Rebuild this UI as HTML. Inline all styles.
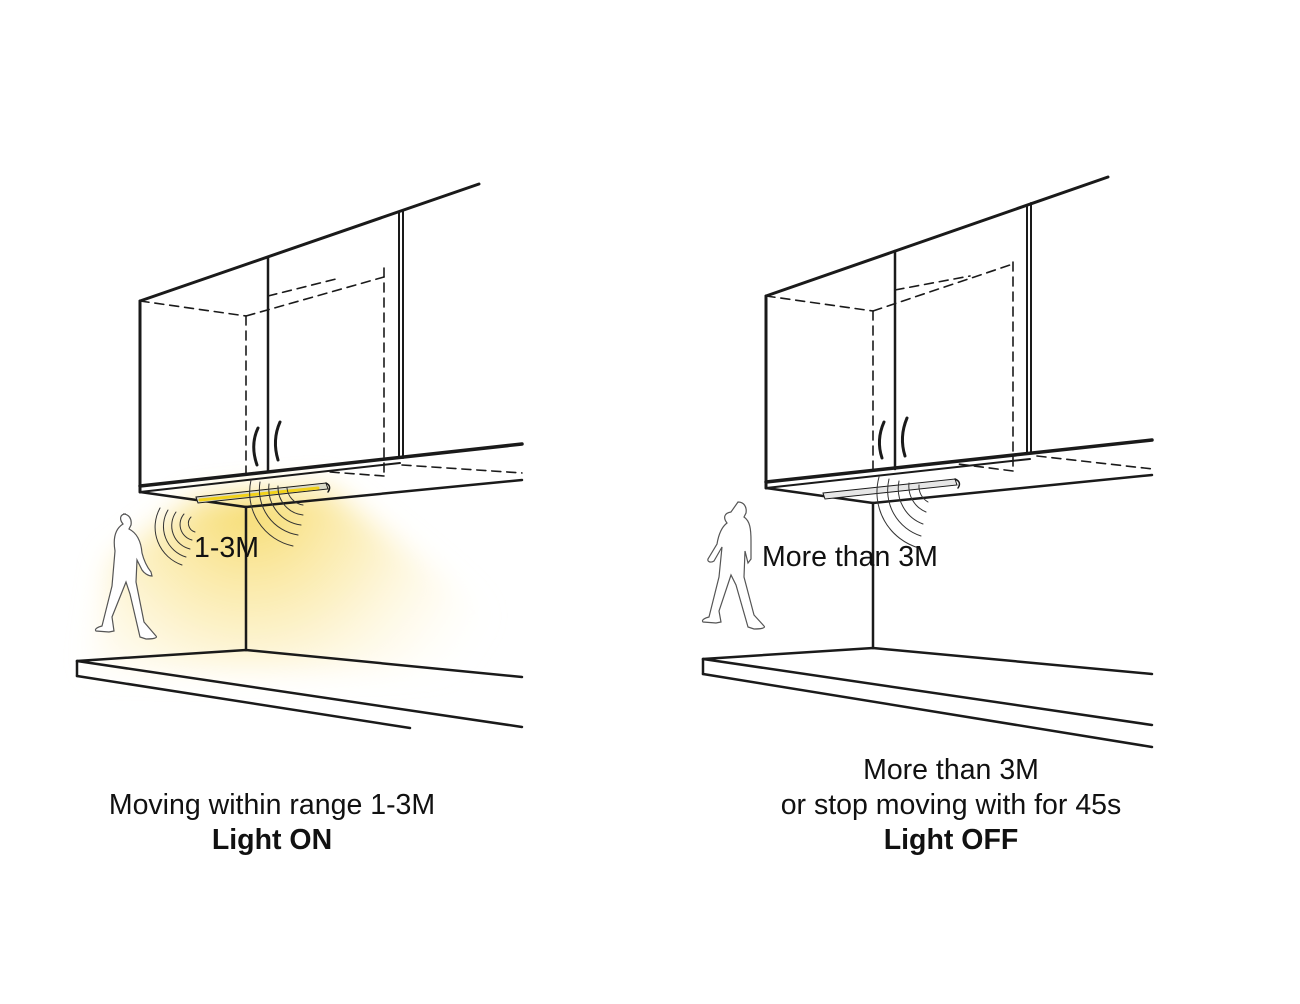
<!DOCTYPE html>
<html><head><meta charset="utf-8"><style>
html,body{margin:0;padding:0;background:#fff;}
svg{display:block;}
text{font-family:"Liberation Sans",Arial,sans-serif;fill:#111;}
</style></head><body>
<svg width="1300" height="1004" viewBox="0 0 1300 1004" xmlns="http://www.w3.org/2000/svg">
<defs>
<radialGradient id="glow" cx="250" cy="500" r="270" gradientUnits="userSpaceOnUse">
<stop offset="0" stop-color="#f5d861" stop-opacity="0.95"/>
<stop offset="0.45" stop-color="#fbe9a6" stop-opacity="0.7"/>
<stop offset="1" stop-color="#fffbe8" stop-opacity="0"/>
</radialGradient>
<filter id="bl" x="-20%" y="-20%" width="140%" height="140%"><feGaussianBlur stdDeviation="14"/></filter>
</defs>
<!-- glow -->
<polygon points="196,499 326,487 500,620 480,670 90,670 110,560" fill="url(#glow)" filter="url(#bl)"/>

<g stroke="#1a1a1a" fill="none" stroke-linecap="round">
<!-- LEFT cabinet -->
<line x1="140" y1="301" x2="479" y2="184" stroke-width="3"/>
<line x1="140" y1="301" x2="140" y2="492" stroke-width="3"/>
<line x1="268" y1="258" x2="268" y2="472" stroke-width="2.5"/>
<line x1="399" y1="213" x2="399" y2="458" stroke-width="2"/>
<line x1="403" y1="211" x2="403" y2="458" stroke-width="2"/>
<line x1="140" y1="486" x2="522" y2="444" stroke-width="3.5"/>
<line x1="140" y1="492" x2="400" y2="463" stroke-width="2"/>
<line x1="140" y1="492" x2="246" y2="507" stroke-width="2.5"/>
<line x1="246" y1="507" x2="522" y2="480" stroke-width="2.5"/>
<g stroke-dasharray="9,6" stroke-width="1.6">
<line x1="140" y1="301" x2="246" y2="316"/>
<line x1="246" y1="316" x2="246" y2="474"/>
<line x1="246" y1="316" x2="384" y2="277"/>
<line x1="268" y1="296" x2="340" y2="278"/>
<line x1="384" y1="268" x2="384" y2="476"/>
<line x1="384" y1="476" x2="330" y2="472"/>
<line x1="402" y1="465" x2="522" y2="473"/>
</g>
<path d="M258,428 Q250,445 257,465" stroke-width="3"/>
<path d="M280,422 Q272,440 278,460" stroke-width="3"/>
<!-- LED left -->
<polygon points="196,497 326,483 328,489 198,503" fill="#d9d9c8" stroke-width="1"/>
<line x1="200" y1="500" x2="318" y2="488" stroke="#f2d21a" stroke-width="3"/>
<path d="M326,483 Q332,486 328,492" stroke-width="1.5"/>
<!-- wall & floor left -->
<line x1="246" y1="507" x2="246" y2="650" stroke-width="2.5"/>
<polyline points="77,661 246,650 522,677" stroke-width="2.5"/>
<line x1="77" y1="661" x2="77" y2="676" stroke-width="2.5"/>
<line x1="77" y1="661" x2="522" y2="727" stroke-width="2.5"/>
<line x1="77" y1="676" x2="410" y2="728" stroke-width="2.5"/>
<!-- arcs left -->
<g stroke="#333" stroke-width="1">
<path d="M160,508 A40,40 0 0 0 182,565"/>
<path d="M168,510 A32,32 0 0 0 186,557"/>
<path d="M176,512 A24,24 0 0 0 190,549"/>
<path d="M184,514 A16,16 0 0 0 192,540"/>
<path d="M191,517 A9,9 0 0 0 195,532"/>
<path d="M251,480 A55,55 0 0 0 293,546"/>
<path d="M260,482 A46,46 0 0 0 298,535"/>
<path d="M269,484 A37,37 0 0 0 301,525"/>
<path d="M278,486 A28,28 0 0 0 303,515"/>
<path d="M287,488 A19,19 0 0 0 303,505"/>
</g>
<!-- person left -->
<path d="M123,514 c6,0 9,5 8,11 l-2,4 c8,4 12,12 13,24 c2,8 5,14 9,19 l1,4 c-4,0 -8,-3 -10,-6 l-5,-10 l-1,22 l8,40 l12,14 c2,2 -3,3 -10,3 l-6,-2 l-10,-43 l-4,-12 l-14,35 l2,14 l-5,1 l-13,-1 c-2,-2 2,-4 6,-5 l10,-40 l3,-35 c-2,-12 0,-22 8,-27 c-4,-5 -3,-10 3,-10 z" stroke="#555" stroke-width="1.2" fill="#fff"/>

<!-- RIGHT cabinet -->
<line x1="766" y1="296" x2="1108" y2="177" stroke-width="3"/>
<line x1="766" y1="296" x2="766" y2="488" stroke-width="3"/>
<line x1="895" y1="251" x2="895" y2="469" stroke-width="2.5"/>
<line x1="1027" y1="205" x2="1027" y2="452" stroke-width="2"/>
<line x1="1031" y1="203" x2="1031" y2="452" stroke-width="2"/>
<line x1="766" y1="482" x2="1152" y2="440" stroke-width="3.5"/>
<line x1="766" y1="488" x2="1030" y2="459" stroke-width="2"/>
<line x1="766" y1="488" x2="873" y2="503" stroke-width="2.5"/>
<line x1="873" y1="503" x2="1152" y2="475" stroke-width="2.5"/>
<g stroke-dasharray="9,6" stroke-width="1.6">
<line x1="766" y1="296" x2="873" y2="311"/>
<line x1="873" y1="311" x2="873" y2="470"/>
<line x1="873" y1="311" x2="1013" y2="264"/>
<line x1="895" y1="290" x2="970" y2="276"/>
<line x1="1013" y1="262" x2="1013" y2="471"/>
<line x1="1013" y1="471" x2="958" y2="464"/>
<line x1="1037" y1="456" x2="1153" y2="469"/>
</g>
<path d="M884,422 Q876,440 882,458" stroke-width="3"/>
<path d="M907,418 Q899,437 905,456" stroke-width="3"/>
<!-- LED right -->
<polygon points="823,493 955,479 957,485 825,499" fill="#e6e6e6" stroke-width="1"/>
<path d="M955,479 Q962,482 958,488" stroke-width="1.5"/>
<!-- wall & floor right -->
<line x1="873" y1="503" x2="873" y2="648" stroke-width="2.5"/>
<polyline points="703,659 873,648 1152,674" stroke-width="2.5"/>
<line x1="703" y1="659" x2="703" y2="674" stroke-width="2.5"/>
<line x1="703" y1="659" x2="1152" y2="725" stroke-width="2.5"/>
<line x1="703" y1="674" x2="1152" y2="747" stroke-width="2.5"/>
<!-- arcs right -->
<g stroke="#333" stroke-width="1">
<path d="M879,477 A58,58 0 0 0 919,548"/>
<path d="M889,479 A48,48 0 0 0 921,536"/>
<path d="M899,481 A38,38 0 0 0 923,524"/>
<path d="M909,483 A28,28 0 0 0 926,512"/>
<path d="M919,485 A18,18 0 0 0 928,502"/>
</g>
<!-- person right -->
<path d="M738,502 c6,0 9,5 8,11 l-2,4 c6,4 7,12 7,24 l0,18 l-3,4 l-3,-12 l-1,26 l10,38 l10,11 c2,2 -3,3 -10,3 l-6,-2 l-12,-42 l-5,-10 l-12,36 l2,11 l-5,1 l-13,-1 c-2,-2 2,-4 6,-5 l10,-40 l3,-30 l-8,14 c-3,2 -7,1 -6,-2 l9,-15 c2,-12 6,-18 10,-21 c-4,-5 -3,-10 4,-11 z" stroke="#555" stroke-width="1.2" fill="#fff"/>
</g>

<text x="194" y="557" font-size="28.5">1-3M</text>
<text x="762" y="566" font-size="28.5">More than 3M</text>
<text x="272" y="814" font-size="28.5" text-anchor="middle">Moving within range 1-3M</text>
<text x="272" y="849" font-size="28.5" text-anchor="middle" font-weight="bold">Light ON</text>
<text x="951" y="779" font-size="28.5" text-anchor="middle">More than 3M</text>
<text x="951" y="814" font-size="28.5" text-anchor="middle">or stop moving with for 45s</text>
<text x="951" y="849" font-size="28.5" text-anchor="middle" font-weight="bold">Light OFF</text>
</svg>
</body></html>
